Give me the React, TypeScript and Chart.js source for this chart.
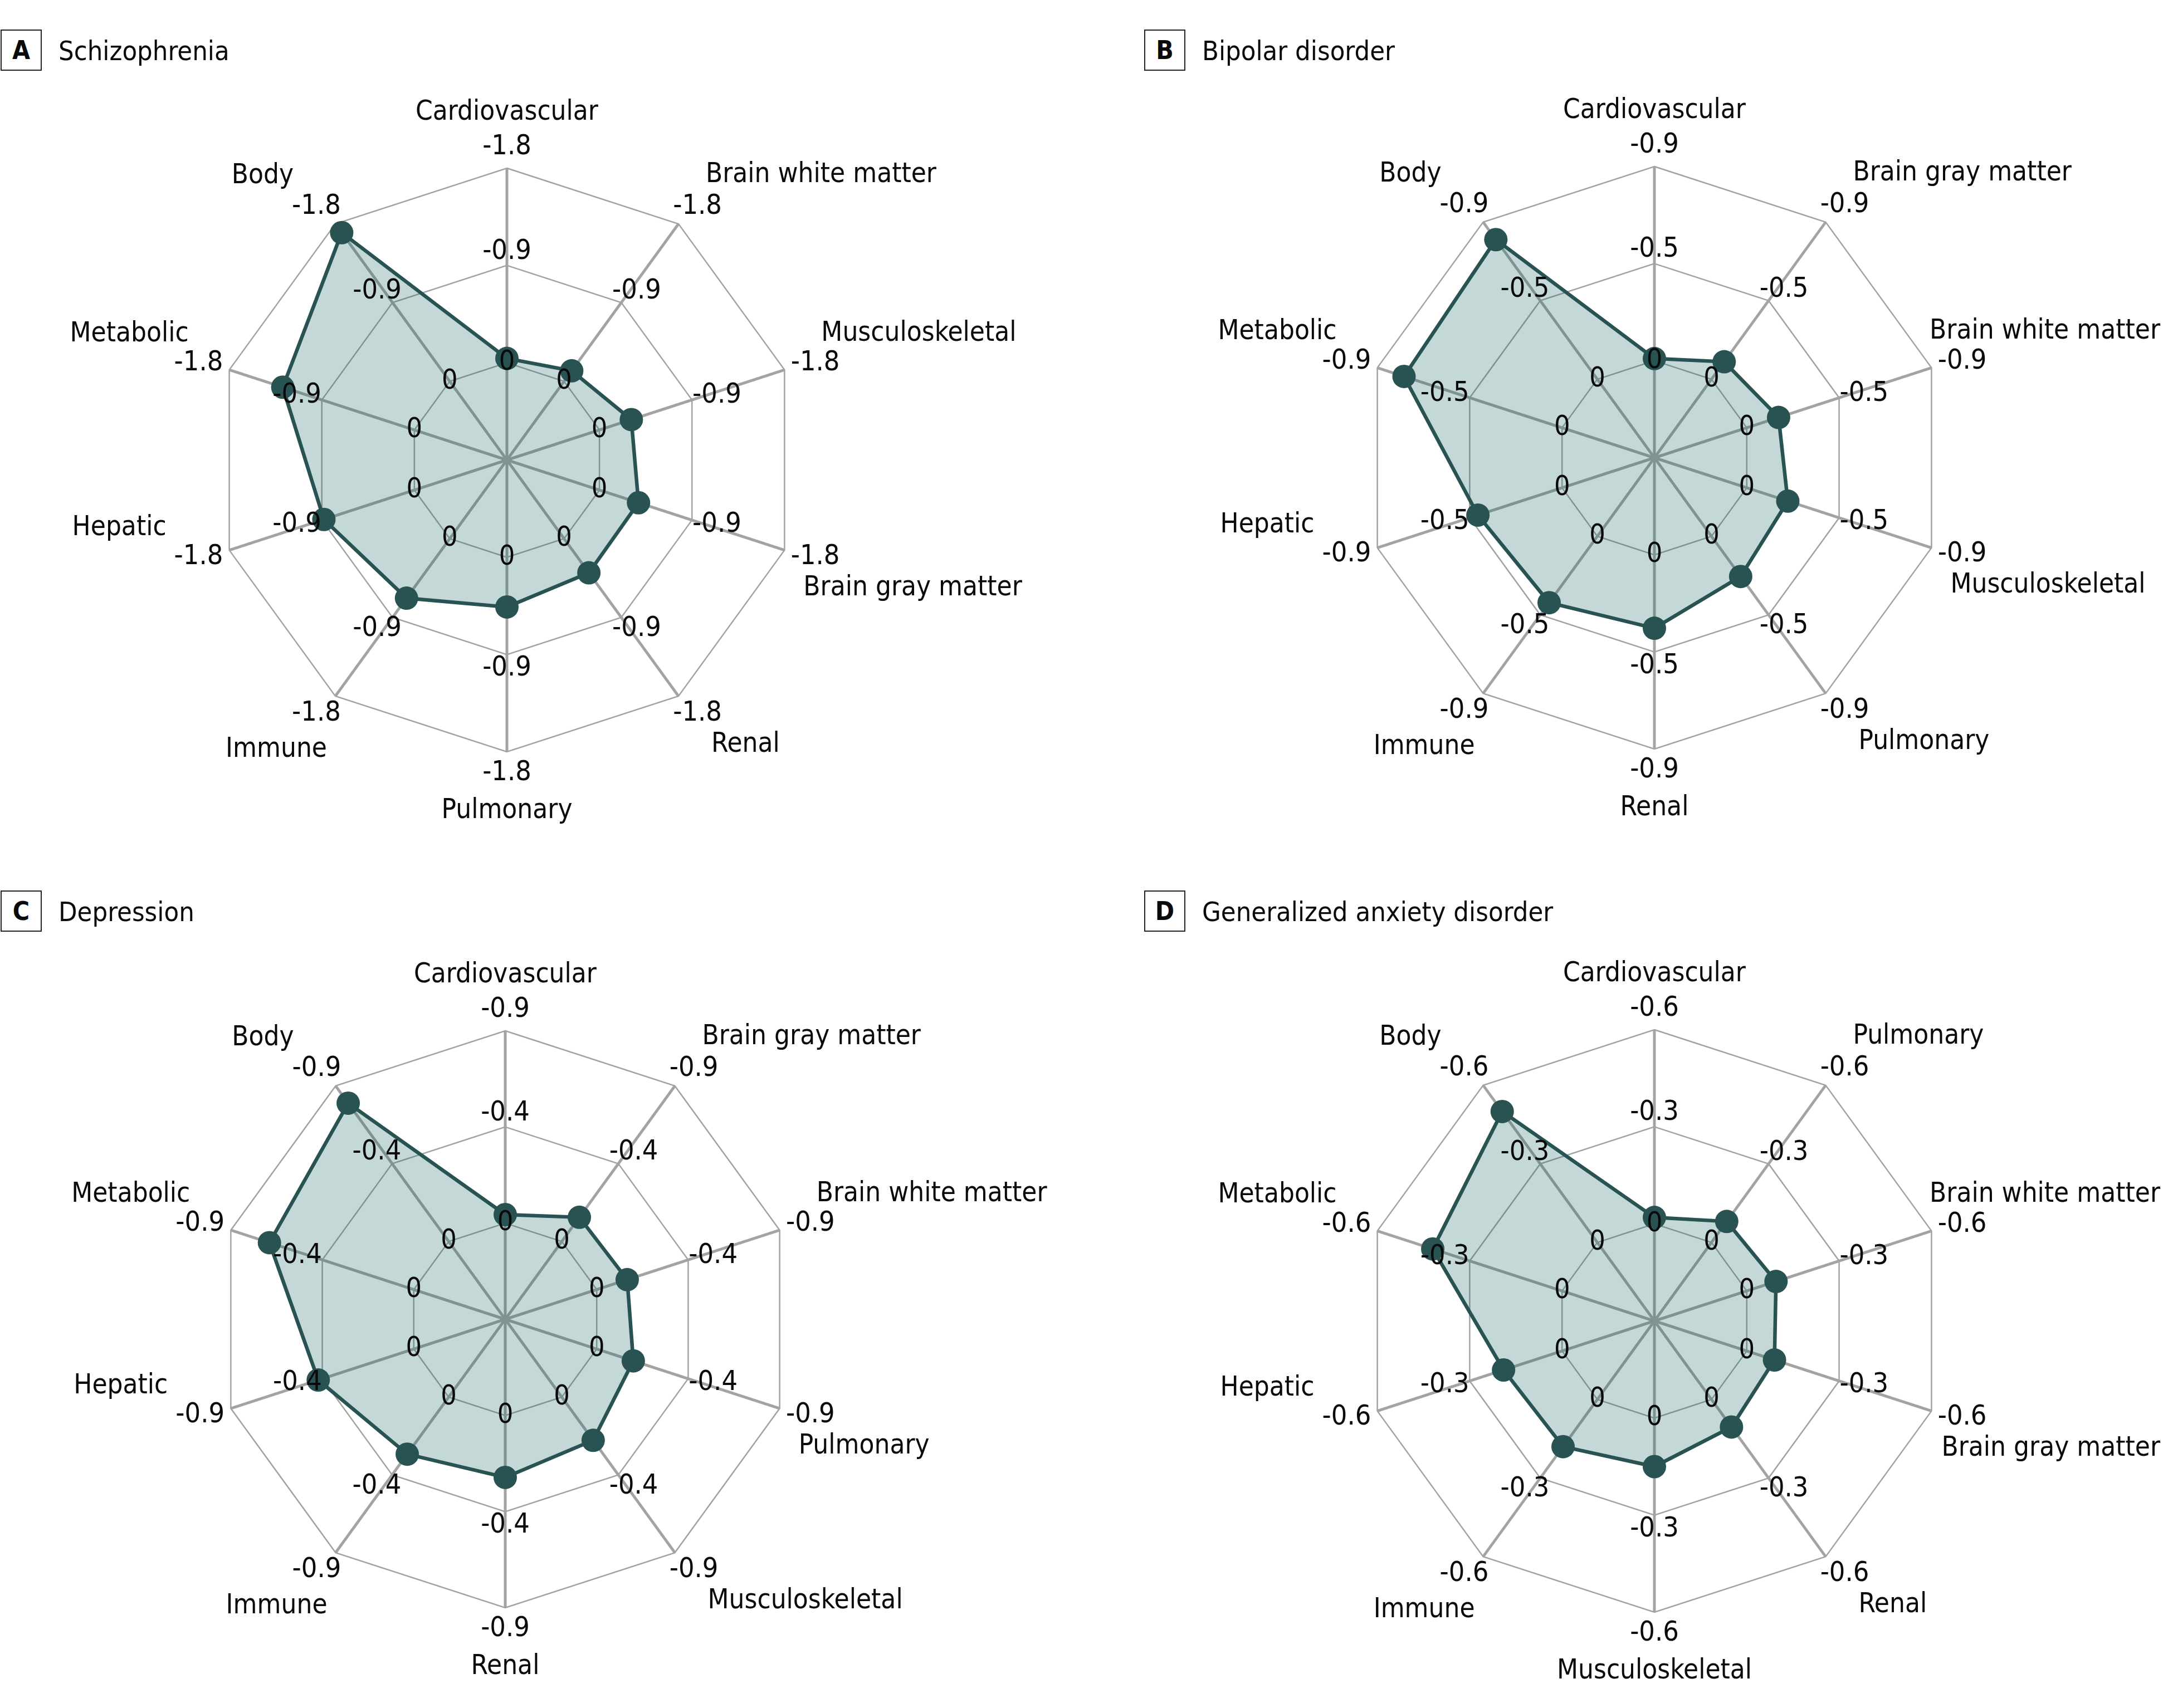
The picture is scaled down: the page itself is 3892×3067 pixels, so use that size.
import React, { useEffect, useRef } from 'react';
import { Chart, registerables } from 'chart.js';

Chart.register(...registerables);

const FONT = "'Liberation Sans Narrow', 'DejaVu Sans Condensed', 'Roboto Condensed', 'Arial Narrow', sans-serif";

// ---------- Data ----------
const labelsA = ['Cardiovascular', 'Brain white matter', 'Musculoskeletal', 'Brain gray matter', 'Renal', 'Pulmonary', 'Immune', 'Hepatic', 'Metabolic', 'Body'];
const valuesA = [-0.04, -0.12, -0.31, -0.38, -0.39, -0.46, -0.68, -0.88, -1.28, -1.70];
const tickValuesA = [0, -0.9, -1.8];
const tickLabelsA = ['0', '-0.9', '-1.8'];

const labelsB = ['Cardiovascular', 'Brain gray matter', 'Brain white matter', 'Musculoskeletal', 'Pulmonary', 'Renal', 'Immune', 'Hepatic', 'Metabolic', 'Body'];
const valuesB = [-0.01, -0.10, -0.155, -0.20, -0.23, -0.34, -0.38, -0.41, -0.77, -0.80];
const tickValuesB = [0, -0.45, -0.9];
const tickLabelsB = ['0', '-0.5', '-0.9'];

const labelsC = ['Cardiovascular', 'Brain gray matter', 'Brain white matter', 'Pulmonary', 'Musculoskeletal', 'Renal', 'Immune', 'Hepatic', 'Metabolic', 'Body'];
const valuesC = [-0.04, -0.14, -0.15, -0.18, -0.25, -0.29, -0.33, -0.47, -0.71, -0.80];
const tickValuesC = [0, -0.45, -0.9];
const tickLabelsC = ['0', '-0.4', '-0.9'];

const labelsD = ['Cardiovascular', 'Pulmonary', 'Brain white matter', 'Brain gray matter', 'Renal', 'Musculoskeletal', 'Immune', 'Hepatic', 'Metabolic', 'Body'];
const valuesD = [-0.02, -0.08, -0.095, -0.09, -0.105, -0.15, -0.18, -0.19, -0.42, -0.50];
const tickValuesD = [0, -0.3, -0.6];
const tickLabelsD = ['0', '-0.3', '-0.6'];

// ---------- Styling / layout ----------
const LINE = '#285352';
const FILL = 'rgba(20, 100, 97, 0.25)';
const TEXT = '#0a0a0a';

// axis label placement relative to outer vertex: [align, dx, dy]
const LABEL_RULE: [CanvasTextAlign, number, number][] = [
  ['center', 0, -100],
  ['left', 49, -88],
  ['left', 66, -65],
  ['left', 34, 68],
  ['left', 59, 87],
  ['center', 0, 106],
  ['right', -15, 96],
  ['right', -113, -40],
  ['right', -73, -64],
  ['right', -75, -86],
];
// tick label offsets (horizontal along sin, vertical along cos) for ring 0, mid, outer
const TICK_OFFSETS = [
  [0, 0],
  [47, 25],
  [58, 38],
];

type Panel = {
  letter: string;
  title: string;
  labels: string[];
  values: number[];
  tickValues: number[];
  tickLabels: string[];
  x0: number; y0: number; w: number; h: number;
  cx: number; cy: number; R: number;
  boxX: number; boxY: number;
};

const panels: Panel[] = [
  { letter: 'A', title: 'Schizophrenia', labels: labelsA, values: valuesA, tickValues: tickValuesA, tickLabels: tickLabelsA,
    x0: 0, y0: 0, w: 1946, h: 1533, cx: 910, cy: 826, R: 524, boxX: 1, boxY: 53 },
  { letter: 'B', title: 'Bipolar disorder', labels: labelsB, values: valuesB, tickValues: tickValuesB, tickLabels: tickLabelsB,
    x0: 1946, y0: 0, w: 1946, h: 1533, cx: 2970, cy: 822, R: 523, boxX: 2054, boxY: 53 },
  { letter: 'C', title: 'Depression', labels: labelsC, values: valuesC, tickValues: tickValuesC, tickLabels: tickLabelsC,
    x0: 0, y0: 1533, w: 1946, h: 1534, cx: 907, cy: 2369, R: 518, boxX: 1, boxY: 1599 },
  { letter: 'D', title: 'Generalized anxiety disorder', labels: labelsD, values: valuesD, tickValues: tickValuesD, tickLabels: tickLabelsD,
    x0: 1946, y0: 1533, w: 1946, h: 1534, cx: 2970, cy: 2372, R: 523, boxX: 2054, boxY: 1599 },
];

function RadarPanel({ p }: { p: Panel }) {
  const ref = useRef<HTMLCanvasElement | null>(null);
  useEffect(() => {
    if (!ref.current) return;
    const outer = p.tickValues[p.tickValues.length - 1];
    const step = -p.tickValues[1];
    const minV = outer;
    const maxV = step;

    const spokeText = {
      id: 'spokeText',
      afterDatasetsDraw(chart: any) {
        const scale = chart.scales.r;
        const ctx: CanvasRenderingContext2D = chart.ctx;
        const n = p.labels.length;
        const W = chart.width;
        ctx.save();
        ctx.fillStyle = TEXT;
        ctx.textBaseline = 'middle';
        for (let i = 0; i < n; i++) {
          const th = (2 * Math.PI * i) / n;
          const s = Math.sin(th);
          const c = Math.cos(th);
          ctx.font = `50px ${FONT}`;
          ctx.textAlign = 'center';
          p.tickValues.forEach((v, k) => {
            const pos = scale.getPointPositionForValue(i, v);
            const off = TICK_OFFSETS[k];
            ctx.fillText(p.tickLabels[k], pos.x + s * off[0], pos.y - c * off[1]);
          });
          const op = scale.getPointPositionForValue(i, minV);
          const [al, dx, dy] = LABEL_RULE[i];
          ctx.font = `49px ${FONT}`;
          ctx.textAlign = al;
          let x = op.x + dx;
          if (al === 'left') {
            const tw = ctx.measureText(p.labels[i]).width;
            if (x + tw > W - 14) x = W - 14 - tw;
          }
          ctx.fillText(p.labels[i], x, op.y + dy);
        }
        ctx.restore();
      },
    };

    const padding = {
      left: p.cx - p.R - p.x0,
      right: p.x0 + p.w - (p.cx + p.R),
      top: p.cy - p.R - p.y0,
      bottom: p.y0 + p.h - (p.cy + p.R),
    };

    const chart = new Chart(ref.current, {
      type: 'radar',
      data: {
        labels: p.labels,
        datasets: [
          {
            data: p.values,
            borderColor: LINE,
            backgroundColor: FILL,
            borderWidth: 6.5,
            pointRadius: 21,
            pointHoverRadius: 21,
            pointBorderWidth: 0,
            pointBackgroundColor: LINE,
            pointBorderColor: LINE,
            fill: 'start',
            tension: 0,
          },
        ],
      },
      options: {
        animation: false,
        responsive: false,
        maintainAspectRatio: false,
        devicePixelRatio: 1,
        events: [],
        layout: { padding },
        plugins: { legend: { display: false }, tooltip: { enabled: false } },
        scales: {
          r: {
            min: minV,
            max: maxV,
            reverse: true,
            ticks: { display: false, stepSize: step },
            pointLabels: { display: false },
            grid: { color: '#a2a2a2', lineWidth: 2.5 },
            angleLines: { color: '#a3a3a3', lineWidth: 5 },
          },
        },
      },
      plugins: [spokeText],
    } as any);
    return () => chart.destroy();
  }, [p]);

  return (
    <>
      <canvas
        ref={ref}
        width={p.w}
        height={p.h}
        style={{ position: 'absolute', left: p.x0, top: p.y0, width: p.w, height: p.h }}
      />
      <div
        style={{
          position: 'absolute', left: p.boxX, top: p.boxY, width: 70, height: 70,
          border: '2.5px solid #222', display: 'flex', alignItems: 'center', justifyContent: 'center',
          fontFamily: FONT, fontWeight: 700, fontSize: 46, color: TEXT, background: '#fff', zIndex: 2,
        }}
      >
        {p.letter}
      </div>
      <div
        style={{
          position: 'absolute', left: p.boxX + 104, top: p.boxY, height: 75, display: 'flex', alignItems: 'center',
          fontFamily: FONT, fontSize: 48.5, color: TEXT, whiteSpace: 'nowrap', zIndex: 2,
        }}
      >
        {p.title}
      </div>
    </>
  );
}

export default function App() {
  return (
    <div style={{ position: 'absolute', left: 0, top: 0, width: 3892, height: 3067, background: '#ffffff', overflow: 'hidden' }}>
      {panels.map((p) => (
        <RadarPanel key={p.letter} p={p} />
      ))}
    </div>
  );
}
